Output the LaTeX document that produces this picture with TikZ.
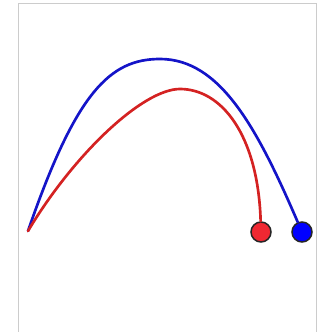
\documentclass[tikz,border=0pt]{standalone}
\usepackage{tikz}
\usetikzlibrary{positioning, calc}
\definecolor{pRed}{HTML}{D42222}
\definecolor{pBlue}{HTML}{1414C8}
\definecolor{bRed}{HTML}{F02832}
\definecolor{bBlue}{HTML}{0000FF}
\definecolor{pFrame}{HTML}{CCCCCC}

\begin{document}
\begin{tikzpicture}[
  x=0.03cm, y=-0.03cm,
  path/.style={line width=0.08cm, line cap=round},
  ball/.style={circle, draw=black!85, line width=0.045cm, inner sep=0pt,
               minimum size=0.6cm},
]
  \useasboundingbox (0,0) rectangle (322,332);
  \draw[pFrame, line width=0.03cm] (18,332) -- (18,3) -- (316,3) -- (316,332);

  \coordinate (launch) at (28,231);
  \node[ball, fill=bRed]  (redball)  at (261,232) {};
  \node[ball, fill=bBlue] (blueball) at (302,232) {};

  % trajectories
  \draw[path, pBlue] (launch) .. controls (76,92) and (110,59) .. (160,59)
    .. controls (220,59) and (257,127.5) .. (blueball);
  \draw[path, pRed] (launch) .. controls (74,154) and (143,89) .. (180,89)
    .. controls (221,89) and (258,134) .. (redball);
\end{tikzpicture}
\end{document}
